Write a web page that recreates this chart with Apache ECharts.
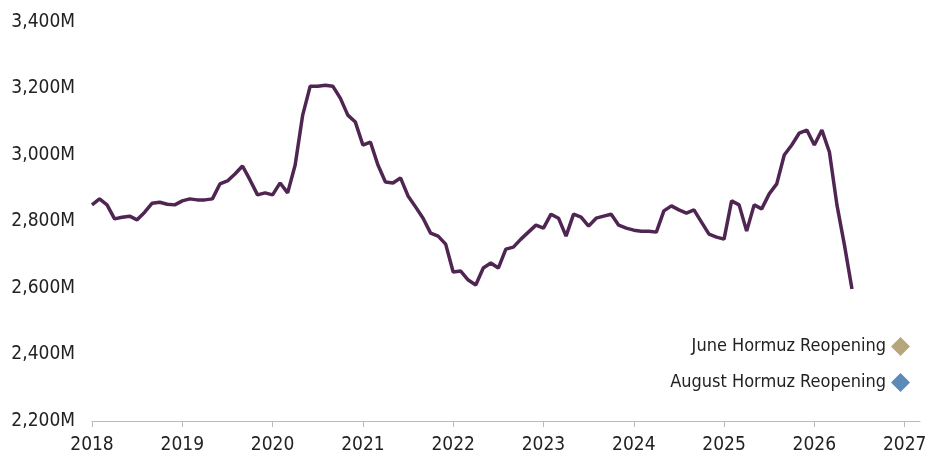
<!DOCTYPE html>
<html>
<head>
<meta charset="utf-8">
<script src="https://cdn.jsdelivr.net/npm/echarts@6/dist/echarts.min.js"></script>
<style>
html,body{margin:0;padding:0;background:#fff;}
#chart{width:942px;height:462px;}
</style>
</head>
<body>
<div id="chart"></div>
<script>
// Monthly values (millions), Jan 2018 – Jun 2026
const startYear = 2018;
const values = [
  2850, 2868, 2850, 2808, 2813, 2816, 2805, 2828, 2855, 2858, 2852, 2850,
  2862, 2868, 2865, 2865, 2868, 2913, 2922, 2943, 2967, 2925, 2880, 2886,
  2880, 2916, 2886, 2970, 3120, 3207, 3207, 3210, 3207, 3171, 3120, 3099,
  3030, 3039, 2970, 2919, 2916, 2931, 2877, 2844, 2810, 2765, 2756, 2732,
  2648, 2651, 2624, 2609, 2660, 2675, 2660, 2717, 2723, 2747, 2768, 2789,
  2780, 2822, 2810, 2756, 2822, 2813, 2786, 2810, 2816, 2822, 2789, 2780,
  2774, 2771, 2771, 2768, 2832, 2847, 2835, 2825, 2835, 2798, 2762, 2753,
  2747, 2862, 2850, 2771, 2850, 2838, 2883, 2913, 3000, 3030, 3066, 3075,
  3030, 3075, 3009, 2850, 2729, 2597
];
// x position in decimal years (month index / 12)
const xYears = values.map((v, i) => startYear + i / 12);
const xTicks = [2018, 2019, 2020, 2021, 2022, 2023, 2024, 2025, 2026, 2027];
const seriesNames = ['June Hormuz Reopening', 'August Hormuz Reopening'];
const seriesColors = ['#b5a77b', '#5b89b8'];
const yTicks = [2200, 2400, 2600, 2800, 3000, 3200, 3400];

const FONT = '"Liberation Sans Narrow", "DejaVu Sans Condensed", "Noto Sans", sans-serif';

const chart = echarts.init(document.getElementById('chart'), null, {renderer: 'canvas'});
chart.setOption({
  animation: false,
  textStyle: {fontFamily: FONT},
  grid: {left: 92, right: 22, top: 22, bottom: 41, containLabel: false},
  xAxis: {
    type: 'value',
    min: xTicks[0],
    max: 2027.17,
    interval: 1,
    axisLine: {show: true, lineStyle: {color: '#bbbbbb', width: 1}},
    axisTick: {show: true, length: 6, lineStyle: {color: '#bbbbbb'}},
    splitLine: {show: false},
    axisLabel: {
      color: '#222', fontSize: 19, fontFamily: FONT, margin: 15,
      showMaxLabel: false,
      formatter: function (v) { return xTicks.indexOf(Math.round(v * 1000) / 1000) >= 0 ? String(Math.round(v)) : ''; }
    }
  },
  yAxis: {
    type: 'value',
    min: yTicks[0], max: yTicks[yTicks.length - 1], interval: 200,
    axisLine: {show: false},
    axisTick: {show: false},
    splitLine: {show: false},
    axisLabel: {
      color: '#222', fontSize: 19, fontFamily: FONT, margin: 17,
      formatter: function (v) { return v.toLocaleString('en-US') + 'M'; }
    }
  },
  legend: {
    orient: 'vertical',
    right: 27, top: 332,
    align: 'right',
    icon: 'diamond',
    itemWidth: 19, itemHeight: 19,
    itemGap: 17,
    textStyle: {color: '#222', fontSize: 18, fontFamily: FONT},
    data: seriesNames
  },
  series: [
    {
      name: 'History',
      type: 'line',
      data: xYears.map((x, i) => [x, values[i]]),
      showSymbol: false,
      lineStyle: {color: '#4f2551', width: 3.5},
      itemStyle: {color: '#4f2551'}
    },
    {name: seriesNames[0], type: 'scatter', symbol: 'diamond', data: [], itemStyle: {color: seriesColors[0], opacity: 1}},
    {name: seriesNames[1], type: 'scatter', symbol: 'diamond', data: [], itemStyle: {color: seriesColors[1], opacity: 1}}
  ]
});
</script>
</body>
</html>
